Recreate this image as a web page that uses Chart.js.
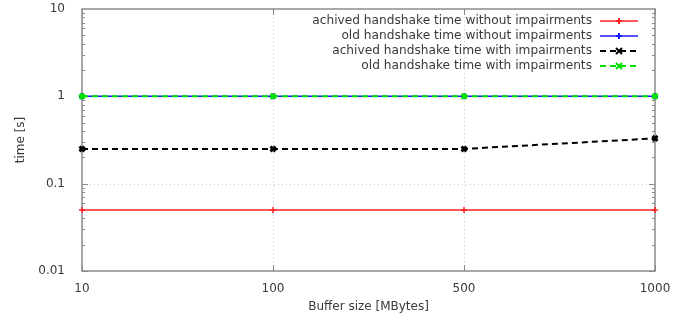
<!DOCTYPE html>
<html>
<head>
<meta charset="utf-8">
<script src="https://cdn.jsdelivr.net/npm/chart.js@4"></script>
<style>
  html, body { margin: 0; padding: 0; background: #fff; }
  #wrap { width: 682px; height: 320px; }
</style>
</head>
<body>
<div id="wrap"><canvas id="timeChart"></canvas></div>
<script>
// buffer sizes (x categories) and measured handshake times in seconds
const bufferSizes      = ['10', '100', '500', '1000'];
const achivedNoImp     = [0.05, 0.05, 0.05, 0.05];
const oldNoImp         = [1, 1, 1, 1];
const achivedImp       = [0.25, 0.25, 0.25, 0.33];
const oldImp           = [1, 1, 1, 1];
const yMajorTicks      = [0.01, 0.1, 1, 10];
const seriesLabels     = [
    'achived handshake time without impairments',
    'old handshake time without impairments',
    'achived handshake time with impairments',
    'old handshake time with impairments'
];

const FONT = 'DejaVu Sans';
const TEXT = '#3a3a3a';

// frame, dotted grid, inward ticks and a gnuplot style legend
const gnuplotLook = {
    id: 'gnuplotLook',
    beforeDatasetsDraw(chart) {
        const ctx = chart.ctx;
        const a = chart.chartArea;
        const x = chart.scales.x, y = chart.scales.y;
        ctx.save();
        // dotted grid
        ctx.strokeStyle = '#c8c8c8';
        ctx.lineWidth = 1;
        ctx.setLineDash([1, 3]);
        ctx.beginPath();
        bufferSizes.forEach((b, i) => {
            if (i == 0 || i == bufferSizes.length - 1) return;
            const px = Math.round(x.getPixelForValue(i)) + 0.5;
            ctx.moveTo(px, a.top); ctx.lineTo(px, a.bottom);
        });
        yMajorTicks.forEach((v, i) => {
            if (i == 0 || i == yMajorTicks.length - 1) return;
            const py = Math.round(y.getPixelForValue(v)) + 0.5;
            ctx.moveTo(a.left, py); ctx.lineTo(a.right, py);
        });
        ctx.stroke();
        ctx.setLineDash([]);
        // ticks
        ctx.strokeStyle = '#8a8a8a';
        ctx.beginPath();
        for (let d = 0; d < yMajorTicks.length - 1; d++) {
            for (let m = 1; m < 10; m++) {
                const v = yMajorTicks[d] * m;
                const py = Math.round(y.getPixelForValue(v)) + 0.5;
                const len = m == 1 ? 6 : 3;
                ctx.moveTo(a.left, py); ctx.lineTo(a.left + len, py);
                ctx.moveTo(a.right, py); ctx.lineTo(a.right - len, py);
            }
        }
        bufferSizes.forEach((b, i) => {
            const px = Math.round(x.getPixelForValue(i)) + 0.5;
            ctx.moveTo(px, a.bottom); ctx.lineTo(px, a.bottom - 6);
            ctx.moveTo(px, a.top); ctx.lineTo(px, a.top + 6);
        });
        ctx.stroke();
        // frame
        ctx.strokeStyle = '#8a8a8a';
        ctx.lineWidth = 1.5;
        ctx.strokeRect(a.left, a.top, a.right - a.left, a.bottom - a.top);
        ctx.restore();
    },
    afterDatasetsDraw(chart) {
        const ctx = chart.ctx;
        ctx.save();
        ctx.font = '12.2px ' + FONT;
        ctx.textAlign = 'right';
        ctx.textBaseline = 'middle';
        chart.data.datasets.forEach((ds, i) => {
            const ly = 21 + i * 15;
            ctx.fillStyle = TEXT;
            ctx.fillText(ds.label, 592, ly);
            ctx.strokeStyle = ds.borderColor;
            ctx.lineWidth = ds.borderWidth;
            ctx.setLineDash(ds.borderDash || []);
            ctx.beginPath();
            ctx.moveTo(600, ly); ctx.lineTo(638, ly);
            ctx.stroke();
            ctx.setLineDash([]);
            ctx.lineWidth = 2;
            ctx.beginPath();
            const r = 3;
            if (ds.pointStyle == 'cross') {
                ctx.moveTo(619 - r, ly); ctx.lineTo(619 + r, ly);
                ctx.moveTo(619, ly - r); ctx.lineTo(619, ly + r);
            } else {
                ctx.moveTo(619 - r, ly - r); ctx.lineTo(619 + r, ly + r);
                ctx.moveTo(619 - r, ly + r); ctx.lineTo(619 + r, ly - r);
            }
            ctx.stroke();
        });
        ctx.restore();
    }
};

new Chart(document.getElementById('timeChart').getContext('2d'), {
    type: 'line',
    data: {
        labels: bufferSizes,
        datasets: [{
            label: seriesLabels[0],
            data: achivedNoImp,
            borderColor: '#ff2020',
            borderWidth: 1.5,
            pointStyle: 'cross',
            pointRadius: 3,
            pointBorderWidth: 1.5,
            order: 3
        }, {
            label: seriesLabels[1],
            data: oldNoImp,
            borderColor: '#1a1aff',
            borderWidth: 1.5,
            pointStyle: 'cross',
            pointRadius: 3,
            pointBorderWidth: 1.5,
            order: 2
        }, {
            label: seriesLabels[2],
            data: achivedImp,
            borderColor: '#000000',
            borderWidth: 2,
            borderDash: [6, 4],
            pointStyle: 'crossRot',
            pointRadius: 3.5,
            pointBorderWidth: 3,
            order: 1
        }, {
            label: seriesLabels[3],
            data: oldImp,
            borderColor: '#00e000',
            borderWidth: 2,
            borderDash: [6, 4],
            pointStyle: 'crossRot',
            pointRadius: 3.5,
            pointBorderWidth: 3,
            order: 0
        }]
    },
    options: {
        responsive: true,
        maintainAspectRatio: false,
        animation: false,
        layout: { padding: { left: 0, right: 27, top: 9, bottom: 6 } },
        plugins: {
            legend: { display: false },
            tooltip: { enabled: false }
        },
        elements: { line: { tension: 0, fill: false } },
        scales: {
            x: {
                type: 'category',
                offset: false,
                grid: { display: false },
                border: { display: false },
                ticks: {
                    color: TEXT,
                    font: { family: FONT, size: 12 },
                    padding: 3,
                    maxRotation: 0,
                    autoSkip: false
                },
                title: {
                    display: true,
                    text: 'Buffer size [MBytes]',
                    color: TEXT,
                    font: { family: FONT, size: 12 },
                    padding: { top: 2, bottom: 0 }
                },
                afterFit: function (scale) {
                    scale.height = 43;
                    scale.paddingLeft = 0;
                    scale.paddingRight = 0;
                }
            },
            y: {
                type: 'logarithmic',
                min: 0.01,
                max: 10,
                grid: { display: false },
                border: { display: false },
                afterBuildTicks: function (scale) {
                    scale.ticks = yMajorTicks.map(v => ({ value: v }));
                },
                ticks: {
                    color: TEXT,
                    font: { family: FONT, size: 12 },
                    padding: 9,
                    autoSkip: false,
                    callback: function (v) { return String(v); }
                },
                title: {
                    display: true,
                    text: 'time [s]',
                    color: TEXT,
                    font: { family: FONT, size: 12 },
                    padding: { top: 14, bottom: 0 }
                },
                afterFit: function (scale) {
                    scale.width = 82;
                    scale.paddingTop = 0;
                    scale.paddingBottom = 0;
                }
            }
        }
    },
    plugins: [gnuplotLook]
});
</script>
</body>
</html>
